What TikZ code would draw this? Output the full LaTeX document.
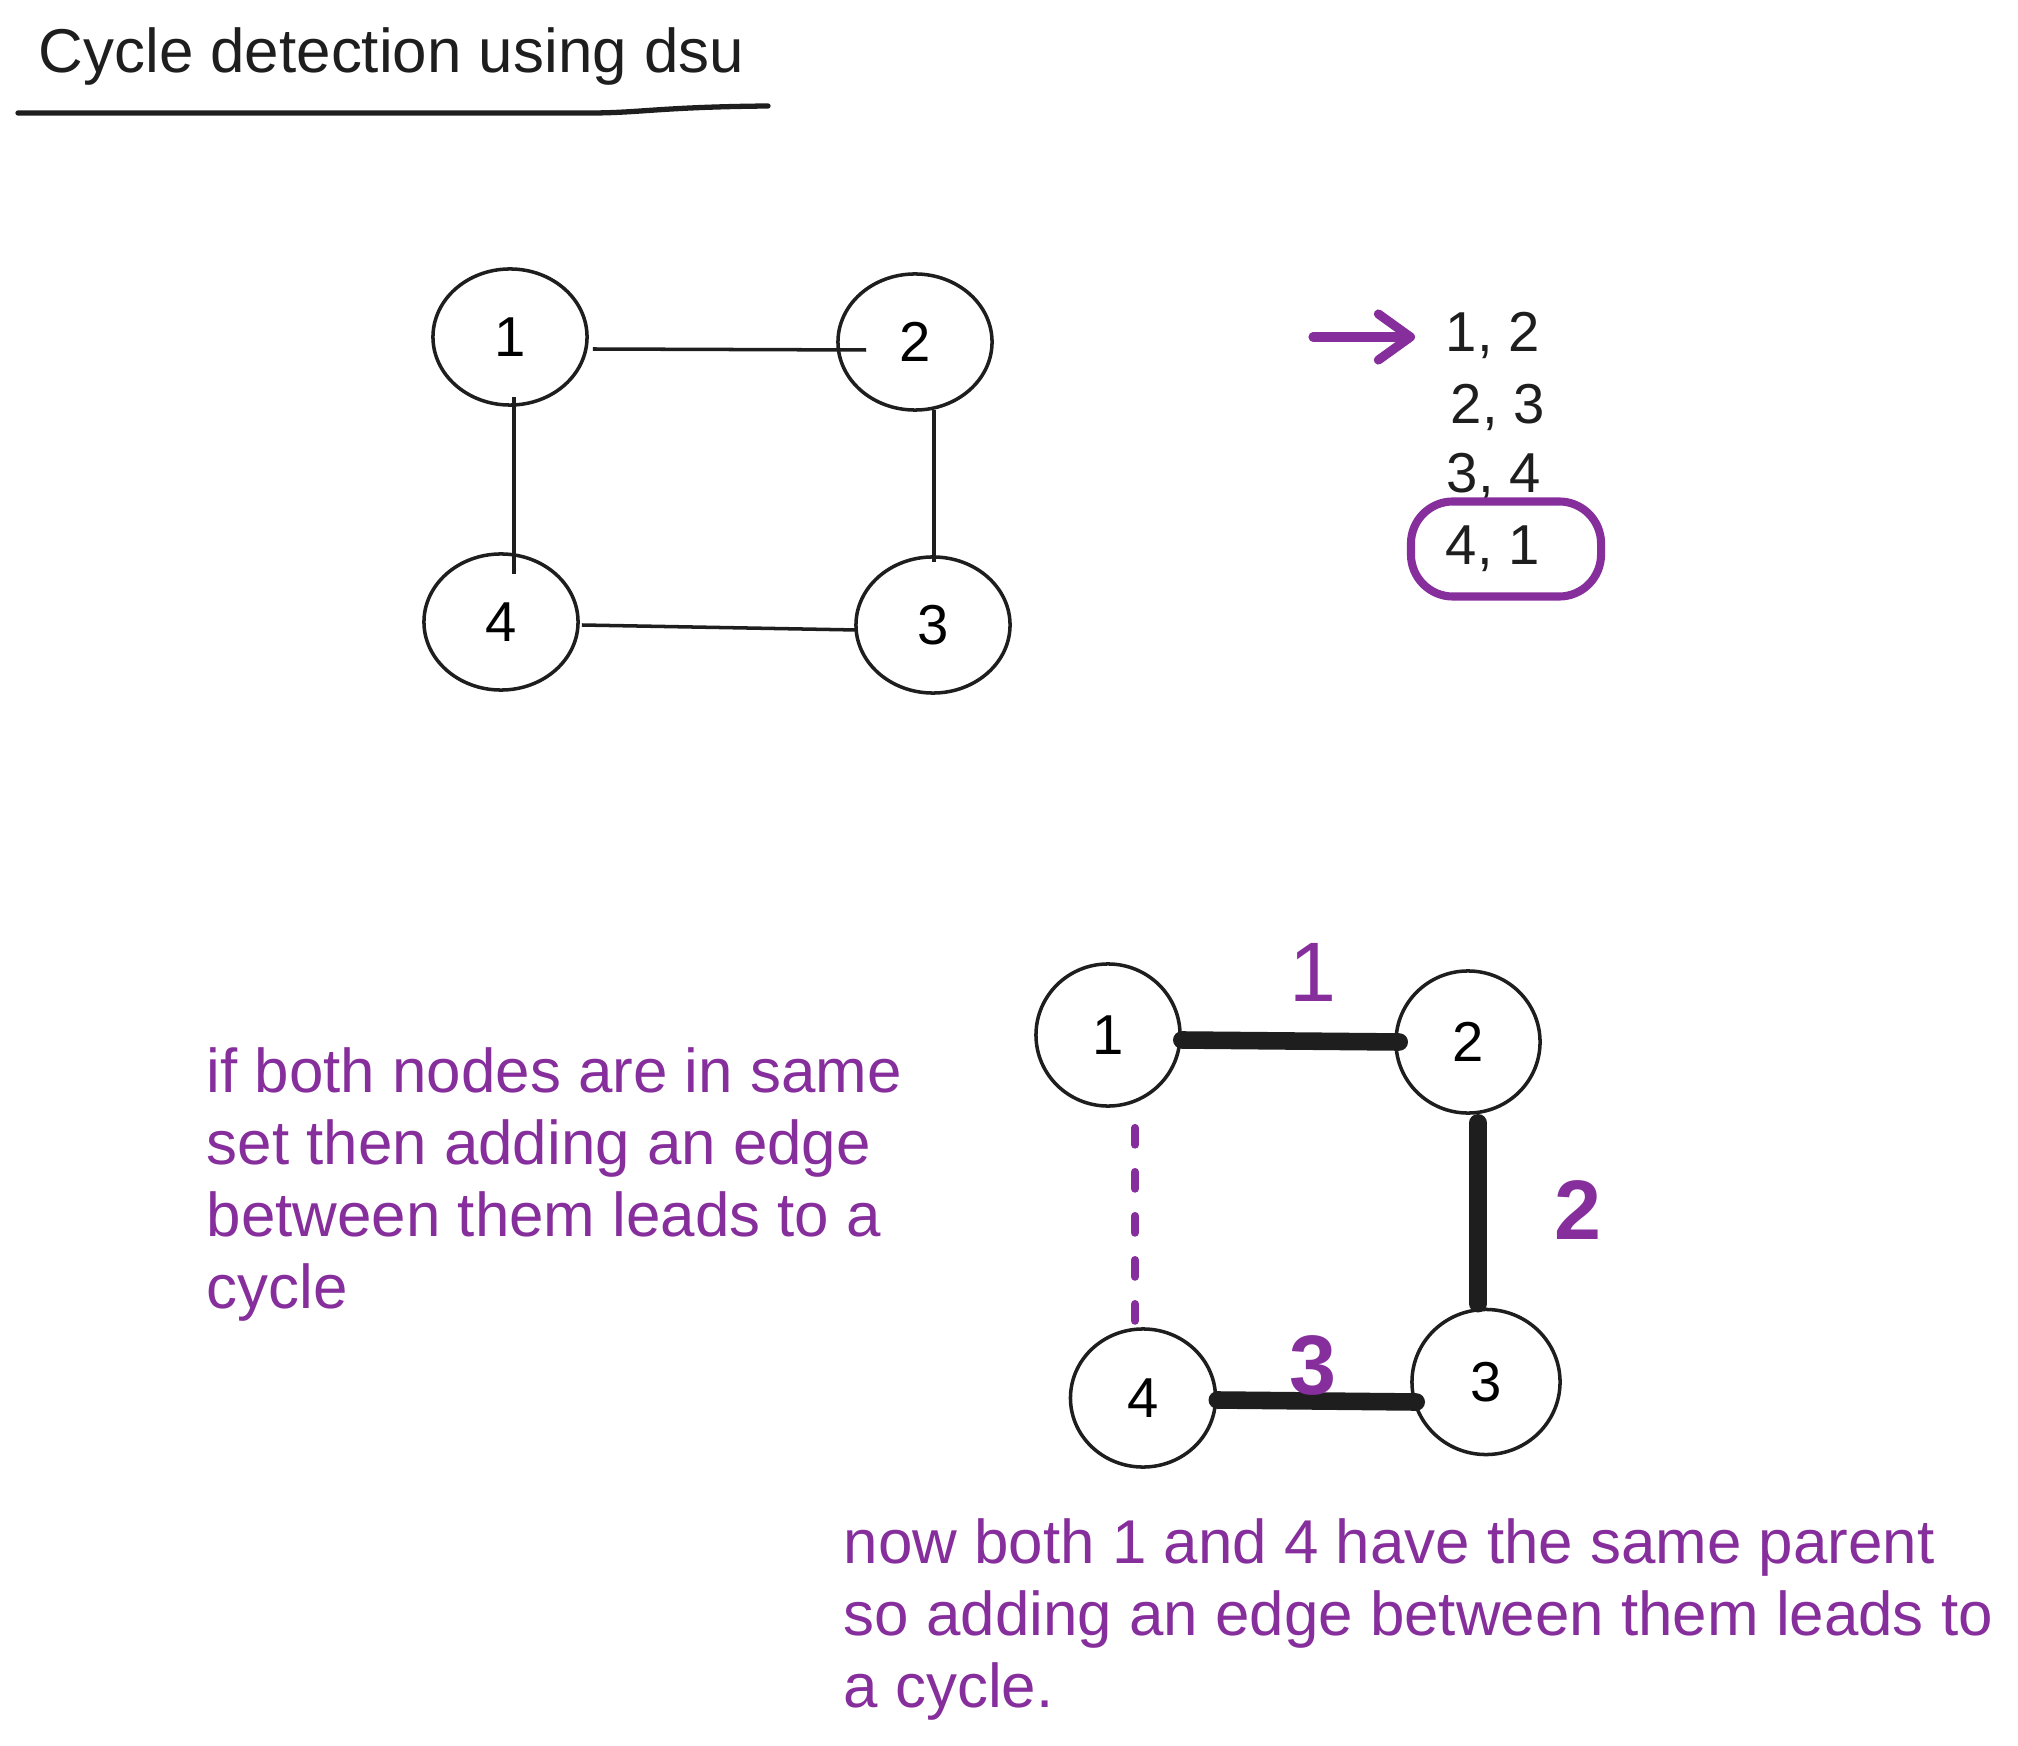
\documentclass[tikz,border=0pt]{standalone}
\usepackage{fontspec}
\setmainfont{Liberation Sans}
\usetikzlibrary{shapes.geometric,arrows.meta,calc}
\definecolor{exviolet}{HTML}{862E9C}
\definecolor{exink}{HTML}{1E1E1E}

\begin{document}
\begin{tikzpicture}[x=0.01cm,y=-0.01cm,
		vtx/.style={ellipse,draw=exink,line width=1pt,inner sep=0pt,minimum width=1.54cm,minimum height=1.36cm,font=\fontsize{16}{19}\selectfont},
		bvtx/.style={ellipse,draw=exink,line width=1pt,inner sep=0pt,minimum width=1.44cm,minimum height=1.42cm,font=\fontsize{16}{19}\selectfont},
		thinedge/.style={exink,line width=1pt},
		heavyedge/.style={exink,line width=5pt,line cap=round},
		dashline/.style={exviolet,line width=2.2pt,line cap=round,dash pattern=on 0.17cm off 0.27cm},
		note/.style={exviolet,align=left,inner sep=0pt,anchor=north west,font=\fontsize{17.6}{20.5}\selectfont},
		pair/.style={exink,inner sep=0pt,anchor=base west,font=\fontsize{16}{19}\selectfont},
		weight/.style={exviolet,inner sep=0pt,font=\fontsize{24}{28}\selectfont\bfseries}]
		\useasboundingbox (0,0) rectangle (2018,1746);
		% title
		\node[exink,inner sep=0pt,anchor=base west,font=\fontsize{17.6}{20.5}\selectfont] (title) at (38,73) {Cycle detection using dsu};
		\draw[exink,line width=1.5pt,line cap=round] (18,113) -- (590,113) .. controls (640,113) and (660,107) .. (768,106);
		% first graph
		\node[vtx] (t1) at (510,337) {1};
		\node[vtx] (t2) at (915,342) {2};
		\node[vtx] (t4) at (501,622) {4};
		\node[vtx] (t3) at (933,625) {3};
		\draw[thinedge] ($(t1.east)+(4,12)$) -- ($(t2.west)+(30,8)$);
		\draw[thinedge] ($(t1.south)+(4,-10)$) -- ($(t4.north)+(13,22)$);
		\draw[thinedge] ($(t2.south)+(19,-2)$) -- ($(t3.north)+(1,7)$);
		\draw[thinedge] ($(t4.east)+(2,3)$) -- ($(t3.west)+(3,5)$);
		% edge list
		\node[pair] (e12) at (1445,352) {1, 2};
		\node[pair] (e23) at (1450,424) {2, 3};
		\node[pair] (e34) at (1446,493) {3, 4};
		\node[pair] (e41) at (1445,565) {4, 1};
		\coordinate (tail) at (1313,337);
		\draw[exviolet,line width=2.6pt,line cap=round,-{Straight Barb[round,length=0.32cm,width=0.46cm]},shorten >=0.3cm] (tail) -- (tail -| e12.west);
		\node[draw=exviolet,line width=2.3pt,rounded corners=0.42cm,minimum width=1.9cm,minimum height=0.95cm] (ring) at (1506,549) {};
		% second graph
		\node[bvtx] (b1) at (1108,1035) {1};
		\node[bvtx] (b2) at (1468,1042) {2};
		\node[bvtx,minimum width=1.48cm,minimum height=1.45cm] (b3) at (1486,1382) {3};
		\node[bvtx,minimum width=1.45cm,minimum height=1.38cm] (b4) at (1143,1398) {4};
		\draw[heavyedge] ($(b1.east)+(0,5)$) -- ($(b2.west)+(5,0)$);
		\draw[heavyedge] ($(b2.south)+(10,8)$) -- ($(b3.north)+(-8,-4)$);
		\draw[heavyedge] ($(b4.east)+(0,2)$) -- ($(b3.west)+(6,20)$);
		\draw[dashline] ($(b1.south -| b4.north)+(-8,20)$) -- ($(b4.north)+(-8,-2)$);
		\node[weight,font=\fontsize{24}{28}\selectfont] (w1) at (1313,972) {1};
		\node[weight] (w2) at (1578,1210) {2};
		\node[weight] (w3) at (1313,1365) {3};
		% notes
		\node[note] (why) at (206,1047) {if both nodes are in same\\set then adding an edge\\between them leads to a\\cycle};
		\node[note] (after) at (843,1518) {now both 1 and 4 have the same parent\\so adding an edge between them leads to\\a cycle.};
\end{tikzpicture}
\end{document}
